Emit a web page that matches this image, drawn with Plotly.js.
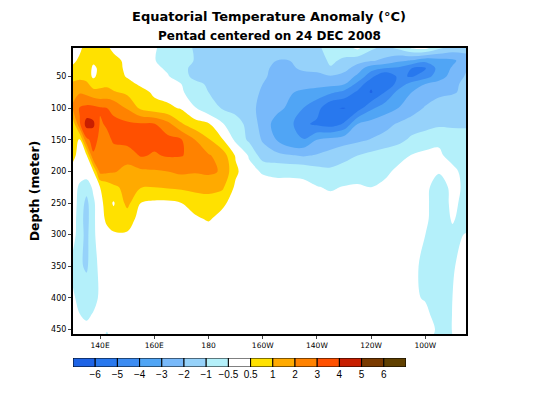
<!DOCTYPE html>
<html><head><meta charset="utf-8">
<script src="https://cdn.plot.ly/plotly-3.0.1.min.js"></script>
<style>html,body{margin:0;padding:0;background:#fff}</style></head>
<body><div id="chart" style="width:540px;height:405px"></div>
<script>
// Temperature anomaly (deg C). One array per depth.
const lon = [130,132.5,135,137.5,140,142.5,145,150,155,160,165,170,175,180,185,190,195,200,205,210,215,220,225,230,235,240,245,250,255,260,265,270,275];
const depths = [5,25,37,50,62,75,100,125,150,175,200,225,250,275,300,350,400,425,450,460];
const d5  = [0.1,0.3,0.7,0.7,0.8,0.6,0.2,0.1,0,-0.45,-0.6,-0.8,-1.1,-1.2,-1.4,-1.5,-1.6,-1.6,-1.5,-1.6,-1.7,-1.2,-0.8,-0.7,-0.3,-0.9,-1.3,-0.9,-0.4,-0.2,-0.9,-1.4,-1.6];
const d25 = [0.3,0.6,0.8,0.6,0.7,0.8,0.7,0.2,0.05,-0.45,-0.7,-0.8,-1.05,-1.3,-1.5,-1.6,-1.7,-1.8,-2.0,-2.0,-1.8,-1.6,-0.9,-1.2,-1.6,-1.9,-2.2,-2.8,-3.1,-3.7,-3.4,-3.2,-2.5];
const d37 = [0.6,0.7,0.8,0.3,0.6,0.8,0.8,0.2,0.05,-0.2,-0.6,-0.9,-1.2,-1.4,-1.6,-1.7,-1.9,-1.9,-2.1,-2.1,-1.9,-1.9,-1.1,-1.6,-2.5,-3.6,-4.0,-4.2,-5.0,-5.1,-3.6,-2.9,-2.1];
const d50 = [0.6,0.8,0.8,0.3,0.7,0.9,0.8,0.4,0.1,-0.1,-0.4,-0.85,-1.2,-1.3,-1.5,-1.7,-1.9,-1.9,-2.2,-2.3,-2.2,-2.1,-2.1,-2.4,-3.2,-4.7,-6.1,-4.8,-5.1,-4.4,-3.5,-2.6,-1.9];
const d62 = [1.4,1.5,1.2,0.8,0.9,0.9,0.8,0.7,0.3,0.1,-0.1,-0.5,-0.9,-1.1,-1.3,-1.5,-1.7,-2.0,-2.2,-2.4,-2.6,-2.6,-2.7,-2.9,-4.3,-5.8,-6.0,-4.6,-3.6,-3.0,-2.6,-2.3,-1.7];
const d75 = [1.6,1.9,1.7,1.3,1.2,1.3,1.1,0.9,0.7,0.3,0.1,-0.4,-0.7,-1.0,-1.2,-1.4,-1.7,-2.1,-2.5,-2.9,-3.2,-3.5,-3.8,-4.3,-5.2,-6.1,-5.0,-3.7,-3.0,-2.6,-2.1,-2.05,-1.9];
const d100= [2.2,3.1,3.3,3.3,3.1,3.0,2.8,1.9,0.9,0.7,0.6,0.4,-0.45,-0.85,-1.05,-1.3,-1.7,-2.3,-2.7,-3.2,-4.0,-4.6,-5.9,-6.05,-5.5,-4.2,-3.5,-3.0,-2.5,-1.9,-1.8,-1.7,-1.6];
const d125= [0.7,2.9,4.4,4.2,2.9,3.1,3.2,3.2,3.1,3.05,2.3,1.1,0.7,0.55,-0.4,-0.8,-1.3,-2.4,-3.4,-3.7,-4.8,-5.2,-5.5,-4.9,-3.0,-2.6,-2.3,-1.9,-1.5,-1.3,-1.2,-1.2,-1.15];
const d150= [0.7,0.4,2.8,3.3,2.8,2.8,3.1,3.4,3.3,3.3,3.3,3.05,2.0,1.1,0.55,-0.6,-1.2,-2.1,-3.0,-3.9,-3.95,-3.0,-2.7,-2.4,-2.2,-1.95,-1.7,-1.3,-0.9,-0.8,-0.6,-0.7,-0.8];
const d175= [0.6,0.2,0.4,2.9,2.6,2.8,2.7,2.4,3.1,2.9,3.1,3.05,2.7,2.1,1.6,0.4,-0.55,-1.5,-1.7,-1.9,-2.1,-1.9,-1.6,-1.3,-1.0,-0.85,-0.7,-0.65,-0.45,-0.2,-0.3,-0.7,-0.7];
const d200= [0.2,0,0.1,0.45,2.3,2.2,2.1,1.7,1.8,1.9,2.0,2.2,2.1,2.2,1.9,0.6,-0.2,-0.55,-0.6,-0.6,-0.6,-0.8,-0.9,-0.8,-0.7,-0.7,-0.6,-0.3,-0.2,-0.1,-0.4,-0.2,-0.7];
const d225= [0,-0.6,-0.8,-0.3,0.5,0.7,0.9,1.3,1.05,1.0,1.1,1.2,1.3,1.3,1.2,0.3,0,-0.1,-0.2,-0.2,-0.3,-0.45,-0.55,-0.45,-0.4,-0.5,-0.3,-0.1,-0.1,-0.2,-0.8,-0.2,-0.6];
const d250= [0,-0.7,-1.3,-0.6,0.2,0.7,0.4,1.3,0.5,0.3,0.3,0.5,0.7,0.8,0.6,0.1,0,0,0,-0.1,-0.1,-0.1,-0.2,-0.2,-0.2,-0.2,-0.1,-0.1,-0.1,-0.2,-0.9,-0.2,-0.7];
const d275= [0,-0.8,-1.4,-0.6,0.1,0.6,0.7,0.7,0.2,0,0,0.1,0.35,0.55,0.2,0,0,0,0,0,0,0,0,0,0,0,0,0,0,-0.3,-0.8,-0.4,-0.7];
const d300= [-0.1,-0.8,-1.3,-0.6,0,0.2,0.4,0.4,0,0,0,0,0,0,0,0,0,0,0,0,0,0,0,0,0,0,0,0,0,-0.5,-0.8,-0.6,-0.45];
const d350= [-0.7,-0.95,-1.1,-0.8,-0.1,0,0,0,0,0,0,0,0,0,0,0,0,0,0,0,0,0,0,0,0,0,0,0,-0.3,-0.6,-0.8,-0.55,-0.1];
const d400= [-0.3,-0.7,-0.8,-0.8,-0.2,0,0,0,0,0,0,0,0,0,0,0,0,0,0,0,0,0,0,0,0,0,0,0,-0.3,-0.55,-0.8,-0.5,0];
const d425= [0,-0.5,-0.7,-0.4,0,0,0,0,0,0,0,0,0,0,0,0,0,0,0,0,0,0,0,0,0,0,0,0,0,-0.2,-0.8,-0.48,0];
const d450= [0,0,0,0,0,-0.4,0,0,0,0,0,0,0,0,0,0,0,0,0,0,0,0,0,0,0,0,0,0,0,0,-0.6,-0.49,0];
const d460= [0,0,0,0,0,-0.6,0,0,0,0,0,0,0,0,0,0,0,0,0,0,0,0,0,0,0,0,0,0,0,0,-0.7,-0.5,0];
const rows = [d5,d25,d37,d50,d62,d75,d100,d125,d150,d175,d200,d225,d250,d275,d300,d350,d400,d425,d450,d460];

const levels = [-6,-5,-4,-3,-2,-1,-0.5,0.5,1,2,3,4,5,6];
const levelLabels = ['\u22126','\u22125','\u22124','\u22123','\u22122','\u22121','\u22120.5','0.5','1','2','3','4','5','6'];
const palette = ['#1e64e6','#2878ee','#3c8cf2','#50a5f5','#78b9fa','#96d2fa','#b4f0fa','#ffffff','#ffe100','#ffaa00','#ff8200','#ff5000','#c81e00','#7a3a00','#604000'];
const lonTicks = [140,160,180,200,220,240,260];
const lonLabels = ['140E','160E','180','160W','140W','120W','100W'];
const depthTicks = [50,100,150,200,250,300,350,400,450];

// GrADS spaces the colour levels unevenly, so place values on a level-index scale.
function toIndex(v){
  if(v<=levels[0]) return v-levels[0];
  for(let i=1;i<levels.length;i++){
    if(v<=levels[i]) return i-1+(v-levels[i-1])/(levels[i]-levels[i-1]);
  }
  return levels.length-1+(v-levels[levels.length-1]);
}
const n = palette.length;
const scale = [];
palette.forEach((c,i)=>{scale.push([i/n,c]);scale.push([(i+1)/n,c]);});

const FONT='"DejaVu Sans",sans-serif';
const contour = {type:'contour',x:lon,y:depths,z:rows.map(r=>r.map(toIndex)),
  colorscale:scale,showscale:false,autocontour:false,
  contours:{start:0,end:levels.length-1,size:1,coloring:'fill',showlines:false},
  line:{width:0},xaxis:'x',yaxis:'y',hoverinfo:'skip'};
const legendBar = {type:'bar',x:palette.map((c,i)=>i+0.5),y:palette.map(()=>1),width:1,
  marker:{color:palette,line:{color:'#000',width:1}},xaxis:'x2',yaxis:'y2',hoverinfo:'skip'};

const layout = {width:540,height:405,showlegend:false,paper_bgcolor:'#fff',plot_bgcolor:'#fff',
  margin:{l:73,r:74,t:48,b:38},
  font:{family:FONT,color:'#000',size:8},
  title:{text:'Equatorial Temperature Anomaly (\u00b0C)',font:{family:FONT,size:13,color:'#000',weight:'bold'},x:269/540,xanchor:'center',y:1-16/405,yanchor:'middle'},
  annotations:[{text:'Pentad centered on 24 DEC 2008',xref:'paper',yref:'paper',x:196.5/393,xanchor:'center',y:1+12/319,yanchor:'middle',showarrow:false,font:{family:FONT,size:12,color:'#000',weight:'bold'}}],
  xaxis:{domain:[0,1],range:[130,275],tickmode:'array',tickvals:lonTicks,ticktext:lonLabels,ticks:'outside',ticklen:3,tickwidth:1,tickfont:{size:7.5,family:FONT},
    showline:true,linewidth:2,linecolor:'#000',mirror:true,showgrid:false,zeroline:false,anchor:'y'},
  yaxis:{domain:[33/319,1],range:[457,5],tickmode:'array',tickvals:depthTicks,ticks:'outside',ticklen:3,tickwidth:1,tickfont:{size:8,family:FONT},
    showline:true,linewidth:2,linecolor:'#000',mirror:true,showgrid:false,zeroline:false,anchor:'x',
    title:{text:'Depth (meter)',standoff:9,font:{family:FONT,size:12.5,weight:'bold',color:'#000'}}},
  xaxis2:{domain:[0,333/393],range:[0,15],tickmode:'array',tickvals:levels.map((v,i)=>i+1),ticktext:levelLabels,ticks:'',tickfont:{size:10,family:'"Liberation Sans",sans-serif'},
    showline:false,showgrid:false,zeroline:false,anchor:'y2'},
  yaxis2:{domain:[0,9/319],range:[0,1],showticklabels:false,ticks:'',showline:false,showgrid:false,zeroline:false,anchor:'x2'},
  bargap:0
};
Plotly.newPlot('chart',[contour,legendBar],layout,{displayModeBar:false,staticPlot:true});
</script></body></html>
